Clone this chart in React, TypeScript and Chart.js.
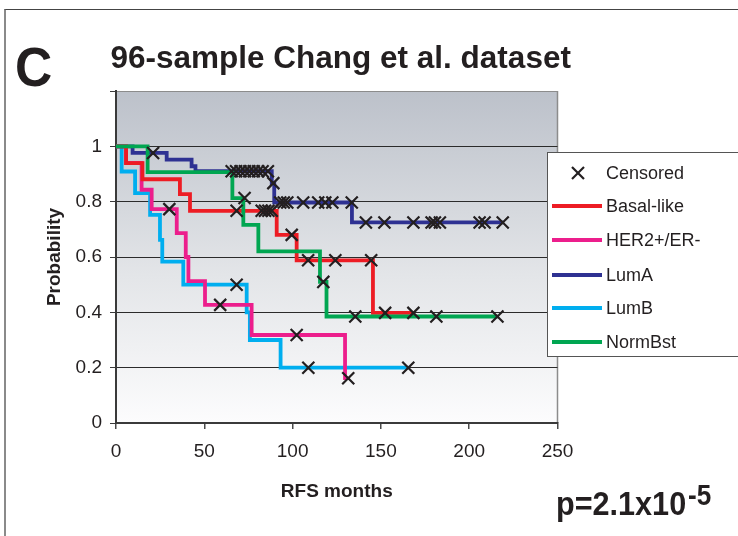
import React, { useEffect, useRef } from 'react';
import { Chart, registerables } from 'chart.js';

Chart.register(...registerables);

// ---- Axis ticks ----
const xTickValues = [0, 50, 100, 150, 200, 250];
const yTickValues = [0, 0.2, 0.4, 0.6, 0.8, 1, 1.2];

// ---- Kaplan-Meier curves (RFS months, survival probability) ----
const basalTimes = [0, 5.7, 15, 36.2, 41.9, 91, 102.3, 145.5, 168.4];
const basalSurv = [1, 0.939, 0.881, 0.827, 0.767, 0.68, 0.588, 0.398, 0.398];
const basalCensTimes = [68.3, 82.5, 84.4, 86.3, 88.2, 99.5, 108.8, 124.2, 144.5, 152.4, 168.4];
const basalCensSurv = [0.767, 0.767, 0.767, 0.767, 0.767, 0.68, 0.588, 0.588, 0.588, 0.398, 0.398];

const her2Times = [0, 5.7, 14.5, 20.2, 34.4, 39.5, 41, 50.4, 76.8, 129.7, 131.5];
const her2Surv = [1, 0.94, 0.843, 0.773, 0.686, 0.6, 0.513, 0.427, 0.318, 0.162, 0.162];
const her2CensTimes = [30.2, 59, 102.3, 131.5];
const her2CensSurv = [0.773, 0.427, 0.318, 0.162];

const lumATimes = [0, 9.4, 28.7, 42.8, 45, 88.2, 89.6, 133.6, 219];
const lumASurv = [1, 0.976, 0.952, 0.928, 0.91, 0.867, 0.797, 0.725, 0.725];
const lumACensTimes = [21, 65.5, 68, 70.5, 73, 75.5, 78, 80.5, 83, 86, 89.1, 93, 95, 97, 106, 114.5, 118.5, 122.5, 133.5, 141.5, 152, 168.4, 178.7, 180.6, 183.4, 205.9, 208.7, 219];
const lumACensSurv = [0.976, 0.91, 0.91, 0.91, 0.91, 0.91, 0.91, 0.91, 0.91, 0.91, 0.867, 0.797, 0.797, 0.797, 0.797, 0.797, 0.797, 0.797, 0.797, 0.725, 0.725, 0.725, 0.725, 0.725, 0.725, 0.725, 0.725, 0.725];

const lumBTimes = [0, 3.2, 10.8, 19.3, 24.9, 26.2, 38.1, 74, 75.8, 93.2, 165.5];
const lumBSurv = [1, 0.909, 0.831, 0.752, 0.662, 0.583, 0.5, 0.4, 0.3, 0.2, 0.2];
const lumBCensTimes = [68.3, 108.9, 165.5];
const lumBCensSurv = [0.5, 0.2, 0.2];

const normTimes = [0, 17.9, 65.9, 72.1, 80.6, 115.5, 119.2, 216];
const normSurv = [1, 0.907, 0.813, 0.716, 0.62, 0.51, 0.385, 0.385];
const normCensTimes = [72.8, 117.4, 135.5, 181.4, 216];
const normCensSurv = [0.813, 0.51, 0.385, 0.385, 0.385];

const legendLabels = ['Censored', 'Basal-like', 'HER2+/ER-', 'LumA', 'LumB', 'NormBst'];
const seriesColors = ['#ed1c24', '#ec1e8c', '#2e3192', '#00aeef', '#00a651'];

const FONT = "'Liberation Sans', Arial, Helvetica, sans-serif";
const INK = '#231f20';

const pts = (t: number[], s: number[]) => t.map((x, i) => ({ x, y: s[i] }));

const plotBg = {
  id: 'plotBg',
  beforeDraw(chart: any) {
    const { ctx, chartArea: a } = chart;
    ctx.save();
    const g = ctx.createLinearGradient(0, a.top, 0, a.bottom);
    g.addColorStop(0, '#bcc1ca');
    g.addColorStop(0.55, '#e3e5e8');
    g.addColorStop(1, '#fcfcfd');
    ctx.fillStyle = g;
    ctx.fillRect(a.left, a.top, a.right - a.left, a.bottom - a.top);
    ctx.strokeStyle = '#8c8c8c';
    ctx.lineWidth = 1.5;
    ctx.beginPath();
    ctx.moveTo(a.right, a.top);
    ctx.lineTo(a.right, a.bottom);
    ctx.stroke();
    ctx.restore();
  },
};

export default function App() {
  const ref = useRef<HTMLCanvasElement | null>(null);

  useEffect(() => {
    if (!ref.current) return;
    const lineDs = (label: string, t: number[], s: number[], color: string, order: number) => ({
      label,
      data: pts(t, s),
      showLine: true,
      stepped: 'before' as const,
      borderColor: color,
      backgroundColor: color,
      borderWidth: 3.8,
      pointRadius: 0,
      fill: false,
      order,
    });
    const censDs = (t: number[], s: number[]) => ({
      label: 'Censored',
      data: pts(t, s),
      showLine: false,
      pointStyle: 'crossRot' as const,
      pointRadius: 8.5,
      pointBorderWidth: 2.2,
      pointBorderColor: INK,
      pointBackgroundColor: INK,
      order: 0,
    });

    const chart = new Chart(ref.current, {
      type: 'scatter',
      data: {
        datasets: [
          lineDs(legendLabels[5], normTimes, normSurv, seriesColors[4], 1),
          lineDs(legendLabels[1], basalTimes, basalSurv, seriesColors[0], 2),
          lineDs(legendLabels[2], her2Times, her2Surv, seriesColors[1], 3),
          lineDs(legendLabels[3], lumATimes, lumASurv, seriesColors[2], 4),
          lineDs(legendLabels[4], lumBTimes, lumBSurv, seriesColors[3], 5),
          censDs(basalCensTimes, basalCensSurv),
          censDs(her2CensTimes, her2CensSurv),
          censDs(lumACensTimes, lumACensSurv),
          censDs(lumBCensTimes, lumBCensSurv),
          censDs(normCensTimes, normCensSurv),
        ] as any,
      },
      options: {
        animation: false,
        responsive: false,
        maintainAspectRatio: false,
        layout: { padding: { left: 39.6, right: 180.5, top: 91, bottom: 28.9 } },
        plugins: { legend: { display: false }, tooltip: { enabled: false }, title: { display: false } },
        scales: {
          x: {
            type: 'linear',
            min: 0,
            max: 250,
            afterBuildTicks: (s: any) => {
              s.ticks = xTickValues.map((v) => ({ value: v }));
            },
            afterFit: (s: any) => {
              s.height = 84.1;
            },
            ticks: { color: INK, font: { family: FONT, size: 19 }, padding: 11, maxRotation: 0 },
            grid: { drawOnChartArea: false, drawTicks: true, tickLength: 6, color: '#4a4a4a', lineWidth: 1.5 },
            border: { color: '#3a3a3a', width: 2 },
            title: { display: true, text: 'RFS months', color: INK, font: { family: FONT, size: 19, weight: 'bold' } },
          },
          y: {
            type: 'linear',
            min: 0,
            max: 1.2,
            afterBuildTicks: (s: any) => {
              s.ticks = yTickValues.map((v) => ({ value: v }));
            },
            afterFit: (s: any) => {
              s.width = 76.4;
            },
            ticks: {
              color: INK,
              font: { family: FONT, size: 19 },
              padding: 8,
              callback: (v: any) => (Number(v) > 1.1 ? '' : String(Number(Number(v).toFixed(1)))),
            },
            grid: {
              drawTicks: true,
              tickLength: 6,
              lineWidth: 1,
              color: (c: any) => (c.tick && c.tick.value > 1.1 ? '#8c8c8c' : '#2b2b2b'),
              tickColor: '#3a3a3a',
            },
            border: { color: '#3a3a3a', width: 2 },
            title: { display: true, text: 'Probability', color: INK, font: { family: FONT, size: 19, weight: 'bold' } },
          },
        },
      },
      plugins: [plotBg],
    } as any);
    return () => chart.destroy();
  }, []);

  const rowCenters = [172, 205, 238.5, 273.5, 307, 340.5];
  const legendTop = 152;

  return (
    <div style={{ position: 'absolute', left: 0, top: 0, width: 738, height: 536, overflow: 'hidden', background: '#fff' }}>
      <canvas ref={ref} width={738} height={536} style={{ position: 'absolute', left: 0, top: 0, width: 738, height: 536 }} />
      {/* outer frame */}
      <div style={{ position: 'absolute', left: 4, top: 9, width: 760, height: 560, borderTop: '1.5px solid #444', borderLeft: '2px solid #8a8a8a' }} />
      {/* panel letter */}
      <div style={{ position: 'absolute', left: 15, top: 39, fontFamily: FONT, fontWeight: 'bold', fontSize: 56, lineHeight: '56px', color: INK, whiteSpace: 'nowrap', transform: 'scaleX(0.92)', transformOrigin: 'left top' }}>C</div>
      {/* title */}
      <div style={{ position: 'absolute', left: 110.5, top: 41.8, fontFamily: FONT, fontWeight: 'bold', fontSize: 31.5, lineHeight: '31.5px', color: INK, whiteSpace: 'nowrap' }}>
        96-sample Chang et al. dataset
      </div>
      {/* p value */}
      <div style={{ position: 'absolute', left: 555.5, top: 486.2, fontFamily: FONT, fontWeight: 'bold', fontSize: 34, lineHeight: '34px', color: INK, whiteSpace: 'nowrap', transform: 'scaleX(0.9)', transformOrigin: 'left top' }}>
        p=2.1x10
      </div>
      <div style={{ position: 'absolute', left: 688, top: 480.5, fontFamily: FONT, fontWeight: 'bold', fontSize: 29, lineHeight: '29px', color: INK, whiteSpace: 'nowrap', transform: 'scaleX(0.9)', transformOrigin: 'left top' }}>
        -5
      </div>
      {/* legend */}
      <div style={{ position: 'absolute', left: 547, top: legendTop, width: 210, height: 205, background: '#fff', border: '1px solid #555', boxSizing: 'border-box' }}>
        {legendLabels.map((lab, i) => {
          const cy = rowCenters[i] - legendTop;
          return (
            <React.Fragment key={lab}>
              {i === 0 ? (
                <svg style={{ position: 'absolute', left: 23, top: cy - 7 }} width={14} height={14}>
                  <line x1={1} y1={1} x2={13} y2={13} stroke={INK} strokeWidth={2.2} />
                  <line x1={13} y1={1} x2={1} y2={13} stroke={INK} strokeWidth={2.2} />
                </svg>
              ) : (
                <div style={{ position: 'absolute', left: 4, top: cy - 2, width: 50, height: 4, background: seriesColors[i - 1] }} />
              )}
              <div style={{ position: 'absolute', left: 58, top: cy - 8.8, fontFamily: FONT, fontSize: 18, lineHeight: '18px', color: INK, whiteSpace: 'nowrap' }}>
                {lab}
              </div>
            </React.Fragment>
          );
        })}
      </div>
    </div>
  );
}
